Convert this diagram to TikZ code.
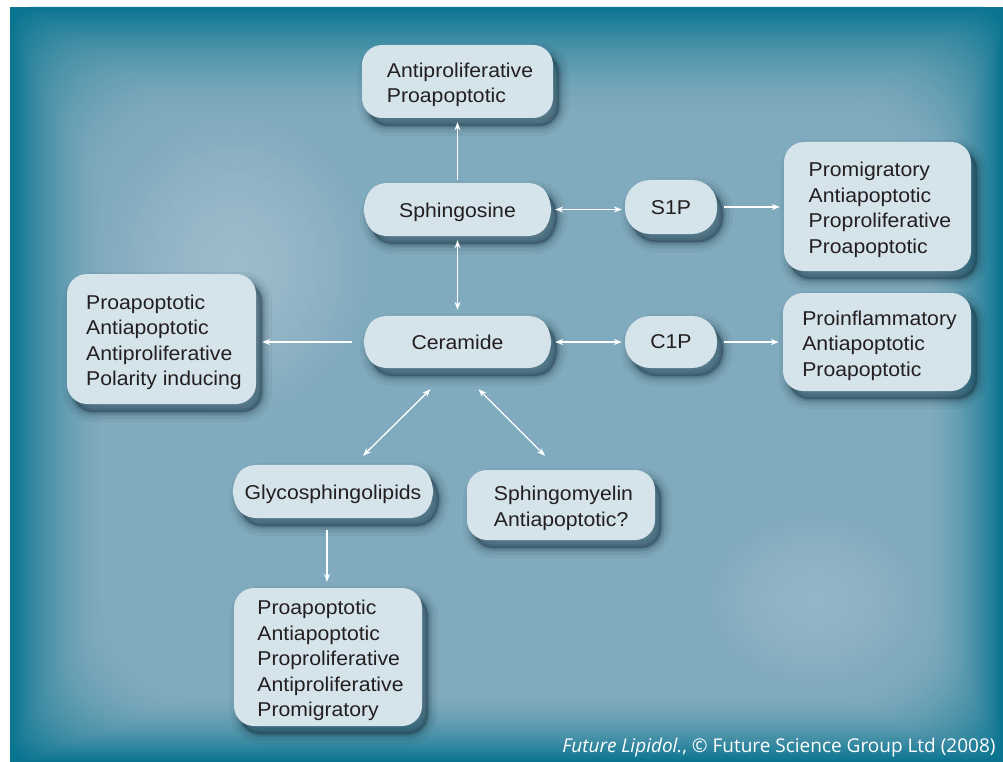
\documentclass[tikz,border=0pt]{standalone}
\usepackage{fontspec}
\setmainfont{Liberation Sans}[FakeStretch=1.06]
\newfontfamily\creditfont{Open Sans}
\usetikzlibrary{arrows.meta,calc}
\definecolor{bgdark}{HTML}{0A7590}
\definecolor{bginner}{HTML}{80AABD}
\definecolor{bglight}{HTML}{9CBBCA}
\definecolor{boxfill}{HTML}{D5E3EB}
\definecolor{txt}{HTML}{231F20}
\definecolor{shadowc}{HTML}{0C2532}
\newcommand\lines[1]{\raisebox{-3.5pt}[\height][\depth]{\kern5pt\begin{tabular}{@{}l@{}}#1\end{tabular}}}
\newcommand\lowr[2]{\raisebox{-#1}[\height][\depth]{#2}}
\pgfdeclarelayer{bg}
\pgfdeclarelayer{shapes}
\pgfsetlayers{bg,shapes,main}
\begin{document}
\begin{tikzpicture}[x=1pt,y=-1pt,
  every node/.style={font=\fontsize{20}{25.5}\selectfont, text=txt},
  shad/.style={
    preaction={draw=shadowc, fill=shadowc, line width=20pt, opacity=0.05, transform canvas={xshift=6pt,yshift=-8pt}},
    preaction={draw=shadowc, line width=13pt, opacity=0.08, transform canvas={xshift=6pt,yshift=-8pt}},
    preaction={draw=shadowc, line width=7pt, opacity=0.12, transform canvas={xshift=6pt,yshift=-8pt}},
    preaction={draw=shadowc, line width=3pt, opacity=0.15, transform canvas={xshift=6pt,yshift=-8pt}},
    preaction={fill=shadowc, opacity=0.3, transform canvas={xshift=6pt,yshift=-8pt}}},
  box/.style={fill=boxfill, rounded corners=20pt, inner sep=0pt, shad},
  pill/.style={fill=boxfill, rounded corners=25pt, inner sep=0pt, shad},
  loz/.style={inner sep=0pt, minimum height=53pt},
  lozp/.style={insert path={(#1.west) .. controls ($(#1.west)+(2,-20)$) and ($(#1.north west)+(11,0)$) .. ($(#1.north west)+(26,0)$)
     -- ($(#1.north east)+(-26,0)$) .. controls ($(#1.north east)+(-11,0)$) and ($(#1.east)+(-2,-20)$) .. (#1.east)
     .. controls ($(#1.east)+(-2,20)$) and ($(#1.south east)+(-11,0)$) .. ($(#1.south east)+(-26,0)$)
     -- ($(#1.south west)+(26,0)$) .. controls ($(#1.south west)+(11,0)$) and ($(#1.west)+(2,20)$) .. cycle}},
  arr/.style={white, line width=1.3pt, {Stealth[length=8pt,width=6pt]}-{Stealth[length=8pt,width=6pt]}},
  arrone/.style={white, line width=1.3pt, -{Stealth[length=8pt,width=6pt]}}]
\useasboundingbox (0,0) rectangle (1003,762);
\begin{pgfonlayer}{bg}
\fill[white] (0,0) rectangle (1003,762);
\fill[bgdark] (10,7) rectangle (1003,762);
\begin{scope}
\clip (10,7) rectangle (1003,762);
% soft vignette, opaque nested shapes
\foreach \i in {0,...,39}{
  \pgfmathsetmacro\p{100*(1-(1-\i/39)^1.6)}
  \pgfmathsetmacro\rc{20+2*\i}
  \fill[bginner!\p!bgdark, rounded corners=\rc pt]
    (10+2.4*\i, 7+2.7*\i) rectangle (1003-1.9*\i, 762-1.7*\i);
}
% lighter spots
\foreach \i in {0,...,24}{
  \pgfmathsetmacro\p{100*(1-(1-\i/24)^1.5)}
  \pgfmathsetmacro\q{70*(1-(1-\i/24)^1.5)}
  \fill[bglight!\p!bginner] (235,265) ellipse [x radius=140-5.6*\i, y radius=155-6.2*\i];
  \fill[bglight!\q!bginner] (815,600) ellipse [x radius=112-4.5*\i, y radius=90-3.6*\i];
}
\end{scope}
\end{pgfonlayer}

% nodes
\node[box, minimum width=191pt, minimum height=73pt] (anti) at (457.5,81.5) {\lines{Antiproliferative\\Proapoptotic}};
\node[loz, minimum width=187pt] (sph) at (457.5,209.5) {\lowr{3pt}{Sphingosine}};
\node[pill, minimum width=92pt, minimum height=54pt] (s1p) at (671,207) {\lowr{1pt}{S1P}};
\node[box, minimum width=187pt, minimum height=129pt] (prom) at (877.5,206.5) {\lines{Promigratory\\Antiapoptotic\\Proproliferative\\Proapoptotic}};
\node[box, minimum width=189pt, minimum height=130pt] (lbox) at (161.5,339) {\lines{Proapoptotic\\Antiapoptotic\\Antiproliferative\\Polarity inducing}};
\node[loz, minimum width=187pt, minimum height=52pt] (cer) at (457.5,342) {Ceramide};
\node[pill, minimum width=92pt, minimum height=52pt] (c1p) at (671,342) {C1P};
\node[box, minimum width=188pt, minimum height=98pt] (pinf) at (877,342) {\lines{Proinflammatory\\Antiapoptotic\\Proapoptotic}};
\node[loz, minimum width=200pt] (gly) at (333,491.5) {\lowr{3pt}{Glycosphingolipids}};
\node[box, minimum width=188pt, minimum height=70pt] (sm) at (561,505) {\lines{Sphingomyelin\\Antiapoptotic?}};
\node[box, minimum width=188pt, minimum height=138pt] (bot) at (328,657) {\lines{Proapoptotic\\Antiapoptotic\\Proproliferative\\Antiproliferative\\Promigratory}};
\node[anchor=base east, font=\creditfont\fontsize{19}{22}\selectfont, text=white] (credit) at (999,752) {\textit{Future Lipidol.}, © Future Science Group Ltd (2008)};

\begin{pgfonlayer}{shapes}
\fill[boxfill, shad] [lozp=sph];
\fill[boxfill, shad] [lozp=cer];
\fill[boxfill, shad] [lozp=gly];
\end{pgfonlayer}

% connectors
\draw[arrone, shorten <=3pt, shorten >=4pt] (sph.north) -- (anti.south);
\draw[arr, shorten <=4pt, shorten >=6pt] (sph.south) -- (cer.north);
\draw[arr, shorten <=4pt, shorten >=3pt] (sph.east) -- (sph.east -| s1p.west);
\draw[arrone, shorten <=7pt, shorten >=4pt] (s1p.east) -- (s1p.east -| prom.west);
\draw[arrone, shorten <=12pt, shorten >=6pt] (cer.west) -- (cer.west -| lbox.east);
\draw[arr, shorten <=4pt, shorten >=3pt] (cer.east) -- (c1p.west);
\draw[arrone, shorten <=7pt, shorten >=4pt] (c1p.east) -- (c1p.east -| pinf.west);
\coordinate (d1a) at ($(cer.south)+(-27,21)$);
\coordinate (d1b) at ($(gly.north)+(30,-9)$);
\coordinate (d2a) at ($(cer.south)+(21,21)$);
\coordinate (d2b) at ($(sm.north)+(-16,-14)$);
\coordinate (g1) at ($(gly.south)+(-6,12)$);
\draw[arr] (d1a) -- (d1b);
\draw[arr] (d2a) -- (d2b);
\draw[arrone, shorten >=6pt] (g1) -- (g1 |- bot.north);
\end{tikzpicture}
\end{document}
